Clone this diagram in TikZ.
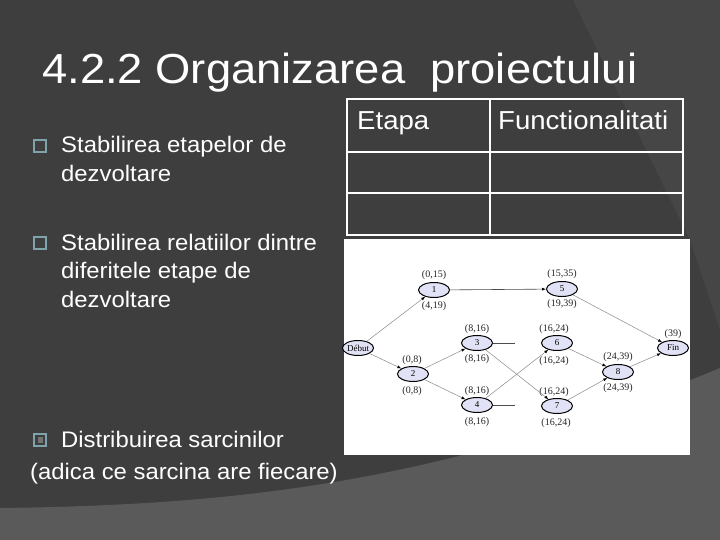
\documentclass[tikz,border=0pt]{standalone}
\usepackage{fontspec}
\setmainfont{Liberation Sans}
\newfontfamily\tnr{Liberation Serif}
\usetikzlibrary{arrows.meta,shapes.geometric}
\definecolor{bgdark}{HTML}{3E3E3E}
\definecolor{bgwedge}{HTML}{464646}
\definecolor{bglow}{HTML}{5A5A5A}
\definecolor{bulletc}{HTML}{7FA3AB}
\definecolor{nodefill}{HTML}{E2E2F6}
\definecolor{edgec}{HTML}{8A8A8A}
\tikzset{
  slidetext/.style={text=white, anchor=base west, inner sep=0pt, font=\fontsize{22.5}{26}\selectfont, xscale=1.06},
  bulletbox/.style={draw=bulletc, line width=1.6pt, fill=bgdark, minimum width=12pt, minimum height=12pt, inner sep=0pt},
  tline/.style={draw=white, line width=2pt},
  headtext/.style={text=white, anchor=base west, inner sep=0pt, font=\fontsize{26}{30}\selectfont, xscale=1.06},
  ev/.style={ellipse, draw=black, line width=1pt, fill=nodefill, minimum width=31pt, minimum height=15pt, inner sep=0pt, font=\tnr\fontsize{9}{10}\selectfont},
  lab/.style={inner sep=0pt, font=\tnr\fontsize{10}{11}\selectfont, text=black!85},
  edge/.style={draw=edgec, line width=0.5pt, -{Latex[length=4pt,width=3pt,color=black]}},
  stub/.style={draw=black!70, line width=0.6pt}
}
\begin{document}
\begin{tikzpicture}[x=1pt,y=-1pt]
\useasboundingbox (0,0) rectangle (720,540);
% background
\fill[bgdark] (0,0) rectangle (720,540);
\fill[bgwedge] (573,0) -- (720,0) -- (720,330) -- (690,240) -- cycle;
\fill[bglow] (0,508) .. controls (250,505) and (450,480) .. (720,368) -- (720,540) -- (0,540) -- cycle;
% title
\node[text=white, anchor=base west, inner sep=0pt, font=\fontsize{42}{48}\selectfont, xscale=1.08] (title) at (42,84) {4.2.2 Organizarea\ \ proiectului};
% bullets
\node[bulletbox] (b1) at (40,146) {};
\node[slidetext] (t1a) at (61,153) {Stabilirea etapelor de};
\node[slidetext] (t1b) at (61,182) {dezvoltare};
\node[bulletbox] (b2) at (40,243) {};
\node[slidetext] (t2a) at (61,250) {Stabilirea relatiilor dintre};
\node[slidetext] (t2b) at (61,278) {diferitele etape de};
\node[slidetext] (t2c) at (61,307) {dezvoltare};
\node[bulletbox] (b3) at (40,440) {};
\fill[black!55] (37.5,437) rectangle (42.5,443);
\node[slidetext] (t3a) at (61,447) {Distribuirea sarcinilor};
\node[slidetext] (t3b) at (30,479) {(adica ce sarcina are fiecare)};
% table
\draw[tline] (347,99) rectangle (683,235);
\draw[tline] (490,99) -- (490,235);
\draw[tline] (347,152) -- (683,152);
\draw[tline] (347,193) -- (683,193);
\node[headtext] (h1) at (357,130) {Etapa};
\node[headtext] (h2) at (498,130) {Functionalitati};
% graph image
\fill[white] (344,239) rectangle (690,455);
\node[ev] (deb) at (358,348) {Début};
\node[ev] (n1) at (434,290) {1};
\node[ev] (n5) at (562,289) {5};
\node[ev] (n3) at (477,343) {3};
\node[ev] (n6) at (557,343) {6};
\node[ev] (n2) at (413,374) {2};
\node[ev] (n4) at (477,405) {4};
\node[ev] (n7) at (557,406) {7};
\node[ev] (n8) at (618,372) {8};
\node[ev] (fin) at (673,348) {Fin};
% labels
\node[lab] (l1a) at (434,275) {(0,15)};
\node[lab] (l1b) at (434,306) {(4,19)};
\node[lab] (l5a) at (562,274) {(15,35)};
\node[lab] (l5b) at (562,304) {(19,39)};
\node[lab] (l3a) at (477,329) {(8,16)};
\node[lab] (l3b) at (477,359) {(8,16)};
\node[lab] (l6a) at (554,329) {(16,24)};
\node[lab] (l6b) at (554,361) {(16,24)};
\node[lab] (l2a) at (412,360) {(0,8)};
\node[lab] (l2b) at (412,391) {(0,8)};
\node[lab] (l4a) at (477,391) {(8,16)};
\node[lab] (l4b) at (477,422) {(8,16)};
\node[lab] (l7a) at (554,392) {(16,24)};
\node[lab] (l7b) at (556,423) {(16,24)};
\node[lab] (l8a) at (618,357) {(24,39)};
\node[lab] (l8b) at (618,388) {(24,39)};
\node[lab] (lfa) at (673,334) {(39)};
% edges
\draw[edge] (deb) -- (n1);
\draw[edge] (deb) -- (n2);
\draw[edge, draw=black!70, line width=0.6pt] (n1) -- (n5);
\draw[edge] (n2) -- (n3);
\draw[edge] (n2) -- (n4);
\draw[edge] (n3) -- (n7);
\draw[edge] (n4) -- (n6);
\draw[edge] (n5) -- (fin);
\draw[edge] (n6) -- (n8);
\draw[edge] (n7) -- (n8);
\draw[edge] (n8) -- (fin);
\coordinate (s3) at (515,343);
\coordinate (s4) at (515,405);
\draw[stub] (n3) -- (s3);
\draw[stub] (n4) -- (s4);
\end{tikzpicture}
\end{document}
